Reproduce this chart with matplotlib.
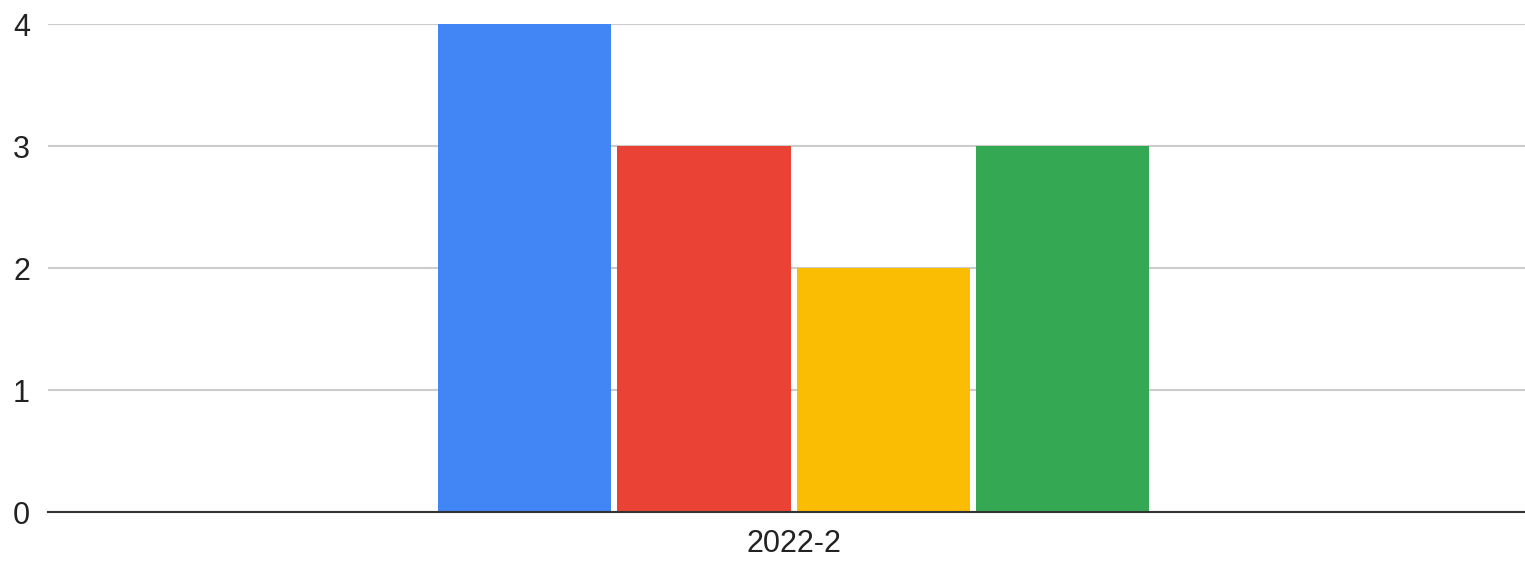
import numpy as np
import matplotlib.pyplot as plt

# one category, four series
categories = ['2022-2']
series_values = [4, 3, 2, 3]
series_colors = ['#4285F4', '#EA4335', '#FBBC04', '#34A853']
y_ticks = [0, 1, 2, 3, 4]

plt.rcParams['font.family'] = ['Liberation Sans', 'DejaVu Sans']

fig = plt.figure(figsize=(15.25, 5.61), dpi=100)
ax = fig.add_axes([48 / 1525, 49 / 561, 1 - 48 / 1525, 488 / 561])

n = len(series_values)
group = 1.0
slot = group / n
bar_w = slot * 0.966
x = np.arange(len(categories))
for i, (v, c) in enumerate(zip(series_values, series_colors)):
    offs = -group / 2 + slot * (i + 0.5)
    ax.bar(x + offs, [v], width=bar_w, color=c, zorder=3)

ax.set_xlim(-1.04, 1.02)
ax.set_ylim(0, 4)
ax.set_yticks(y_ticks)
ax.set_xticks(x)
ax.set_xticklabels(categories)
ax.tick_params(axis='both', length=0, labelsize=22, colors='#222222')
ax.tick_params(axis='y', pad=13)
ax.tick_params(axis='x', pad=12)
ax.grid(axis='y', color='#cccccc', linewidth=1.5, zorder=0)
for s in ['top', 'right', 'left']:
    ax.spines[s].set_visible(False)
ax.spines['bottom'].set_color('#333333')
ax.spines['bottom'].set_linewidth(1.5)
ax.spines['bottom'].set_zorder(4)

fig.savefig('out.png')
